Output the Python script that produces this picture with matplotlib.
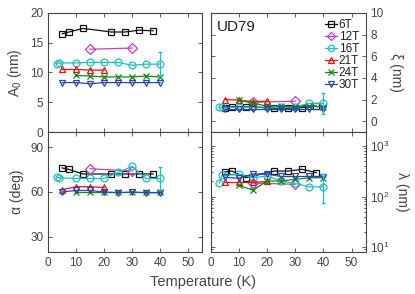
import matplotlib
matplotlib.use("Agg")
import matplotlib.pyplot as plt
from matplotlib.ticker import LogLocator, NullFormatter

plt.rcParams["font.family"] = ["Liberation Sans", "DejaVu Sans"]
plt.rcParams["mathtext.fontset"] = "custom"
plt.rcParams["mathtext.rm"] = "Liberation Sans"

FIELDS = ["6T", "12T", "16T", "21T", "24T", "30T"]
COLORS = ["#111111", "#c040c0", "#1fc0c0", "#ee1111", "#118811", "#2a45b0"]
MARKERS = ["s", "D", "o", "^", "x", "v"]

T6 = [5, 7.5, 12.5, 22.5, 27.5, 32.5, 37.5]
T12 = [15, 30]
T16 = [3, 4, 10, 15, 20, 25, 30, 35, 40]
T21 = [5, 10, 15, 20]
T24 = [10, 15, 20, 25, 30, 35, 40]
T30 = [5, 10, 15, 20, 25, 30, 35, 40]
TEMPS = [T6, T12, T16, T21, T24, T30]

# A0 (nm)
A0 = [
    [16.5, 16.8, 17.4, 16.8, 16.8, 17.1, 17.0],
    [13.9, 14.1],
    [11.5, 11.6, 11.6, 11.7, 11.7, 11.7, 11.2, 11.4, 11.4],
    [10.5, 10.5, 10.4, 10.4],
    [9.5, 9.4, 9.25, 9.25, 9.25, 9.4, 9.25],
    [8.3, 8.3, 8.1, 8.3, 8.3, 8.3, 8.3, 8.3],
]
# xi (nm)
XI = [
    [1.25, 1.35, 1.35, 1.2, 1.2, 1.25, 1.4],
    [1.75, 1.85],
    [1.27, 1.27, 1.3, 1.3, 1.3, 1.3, 1.3, 1.65, 1.65],
    [2.0, 1.95, 1.8, 1.85],
    [1.95, 1.65, 1.4, 1.4, 1.3, 1.4, 1.3],
    [1.1, 1.1, 1.1, 1.1, 1.1, 1.1, 1.1, 1.1],
]
# alpha (deg)
ALPHA = [
    [76, 75, 72, 72, 72, 72, 72],
    [75.5, 74],
    [69.8, 69.5, 69, 69, 69, 73, 77, 69, 69],
    [61.5, 63.5, 63.5, 63],
    [60, 60, 60, 60, 60, 60, 60],
    [60, 61, 61, 60, 59.5, 60, 59.5, 59.5],
]
# lambda (nm)
LAM = [
    [308, 320, 236, 320, 320, 347, 297],
    [185, 175],
    [188, 263, 275, 236, 255, 203, 182, 156, 156],
    [190, 190, 190, 200],
    [166, 134, 203, 203, 219, 236, 236],
    [240, 230, 280, 280, 250, 250, 250, 245],
]

# error bars on the 16T point at 40 K
ERR_A0 = 2.0
ERR_XI = 0.95
ERR_ALPHA = 7.5
ERR_LAM = [[81], [119]]

GRAY = "#454545"


def style(ax, right=False):
    ax.set_xlim(0, 55)
    ax.set_xticks([0, 10, 20, 30, 40, 50])
    ax.tick_params(direction="in", top=True, right=True, left=True,
                   labelsize=8.5, colors=GRAY, length=3, width=0.6,
                   labelleft=not right, labelright=right)
    ax.tick_params(which="minor", direction="in", top=True, right=True,
                   left=True, length=1.5, width=0.5)
    for s in ax.spines.values():
        s.set_color(GRAY)
        s.set_linewidth(0.8)
    if right:
        ax.yaxis.set_label_position("right")


def draw(ax, data, err):
    for i in range(len(FIELDS)):
        ax.plot(TEMPS[i], data[i], marker=MARKERS[i], color=COLORS[i],
                mfc="none", ms=5, mew=0.9, lw=0.9, label=FIELDS[i])
    ax.errorbar([T16[-1]], [data[2][-1]], yerr=err, color=COLORS[2],
                lw=0.9, capsize=1.5, fmt="none")


fig = plt.figure(figsize=(4.15, 2.94), dpi=100)
ax1 = fig.add_axes([0.116, 0.551, 0.371, 0.405])
ax2 = fig.add_axes([0.508, 0.551, 0.373, 0.405])
ax3 = fig.add_axes([0.116, 0.143, 0.371, 0.408])
ax4 = fig.add_axes([0.508, 0.143, 0.373, 0.408])

draw(ax1, A0, ERR_A0)
style(ax1)
ax1.set_ylim(0, 20)
ax1.set_yticks([0, 5, 10, 15, 20])
ax1.tick_params(labelbottom=False)
ax1.set_ylabel("A$_0$ (nm)", fontsize=10, color=GRAY, labelpad=4)

draw(ax2, XI, ERR_XI)
style(ax2, right=True)
ax2.set_ylim(-1, 10)
ax2.set_yticks([0, 2, 4, 6, 8, 10])
ax2.tick_params(labelbottom=False)
ax2.set_ylabel("ξ (nm)", fontsize=10, color=GRAY, rotation=270, labelpad=14)
ax2.text(0.04, 0.88, "UD79", transform=ax2.transAxes, fontsize=11,
         color="#222222", va="center")
leg = ax2.legend(loc="upper right", frameon=False, fontsize=8.5,
                 handlelength=1.0, handletextpad=0.15, labelspacing=0.0,
                 borderaxespad=0.25, borderpad=0.3, markerscale=0.9)
for t in leg.get_texts():
    t.set_color("#222222")

draw(ax3, ALPHA, ERR_ALPHA)
style(ax3)
ax3.set_ylim(20, 100)
ax3.set_yticks([30, 60, 90])
ax3.set_ylabel("α (deg)", fontsize=10, color=GRAY, labelpad=4)

draw(ax4, LAM, ERR_LAM)
ax4.set_yscale("log")
style(ax4, right=True)
ax4.set_ylim(8, 1900)
ax4.yaxis.set_major_locator(LogLocator(base=10, numticks=5))
ax4.yaxis.set_minor_locator(LogLocator(base=10, subs=range(2, 10), numticks=10))
ax4.yaxis.set_minor_formatter(NullFormatter())
ax4.set_ylabel("λ (nm)", fontsize=10, color=GRAY, rotation=270, labelpad=14)

fig.text(0.49, 0.04, "Temperature (K)", ha="center", va="center",
         fontsize=10.5, color=GRAY)

fig.savefig("out.png", dpi=100)
